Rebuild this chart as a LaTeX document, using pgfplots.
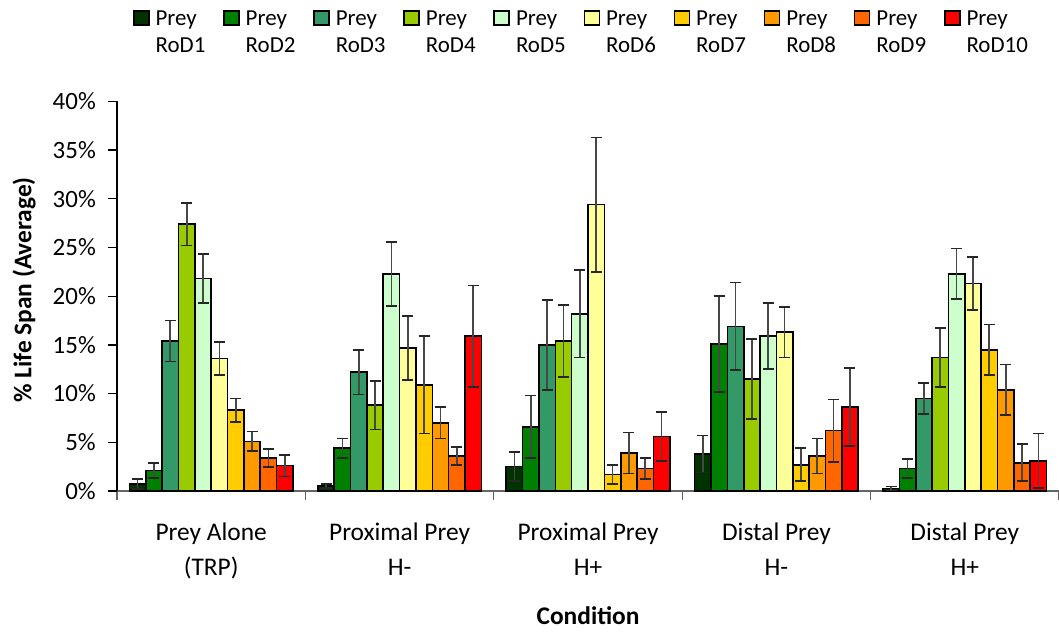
\documentclass[border=0pt]{standalone}
\usepackage{fontspec}
\setmainfont{Carlito}
\usepackage{pgfplots}
\pgfplotsset{compat=1.18}
\definecolor{c1}{HTML}{003300}
\definecolor{c2}{HTML}{008000}
\definecolor{c3}{HTML}{339966}
\definecolor{c4}{HTML}{99CC00}
\definecolor{c5}{HTML}{CCFFCC}
\definecolor{c6}{HTML}{FFFF99}
\definecolor{c7}{HTML}{FFCC00}
\definecolor{c8}{HTML}{FF9900}
\definecolor{c9}{HTML}{FF6600}
\definecolor{c10}{HTML}{FF0000}
\pgfplotsset{
  mybar/.style={fill=#1, draw=black, line width=1.6bp,
    legend image code/.code={\draw[##1] (0bp,1bp) rectangle (15bp,15bp);},
    error bars/.cd, y dir=both, y explicit,
    error bar style={line width=1.7bp, black!72},
    error mark options={rotate=90, mark size=5.5bp, line width=1.7bp, black!85}},
}
\newcommand\xl[2]{\begin{tabular}[t]{@{}c@{}}#1\\#2\end{tabular}}
\newcommand\legtxt[1]{\parbox[t]{67.5bp}{Prey\\#1}}
\begin{document}
\begin{tikzpicture}
\path[use as bounding box] (-117bp,-141bp) rectangle (942bp,491bp);
\begin{axis}[
  at={(0,0)}, anchor=south west,
  scale only axis, width=942bp, height=389.6bp,
  xmin=-0.5, xmax=4.5, ymin=0, ymax=40,
  ybar=0pt, bar width=16.35bp,
  axis x line=bottom, axis y line=left,
  axis line style={-, line width=1.3bp, black},
  x axis line style={black!60},
  xtick={0,1,2,3,4},
  xticklabels={\xl{Prey Alone}{(TRP)},\xl{Proximal Prey}{H-},\xl{Proximal Prey}{H+},\xl{Distal Prey}{H-},\xl{Distal Prey}{H+}},
  minor xtick={-0.5,0.5,1.5,2.5,3.5,4.5},
  ytick={0,5,10,15,20,25,30,35,40},
  yticklabels={0\%,5\%,10\%,15\%,20\%,25\%,30\%,35\%,40\%},
  tick align=outside, major tick length=9bp, minor tick length=9bp,
  tick style={line width=1.3bp, black},
  major x tick style={draw=none},
  minor x tick style={line width=1.3bp, black!60},
  yticklabel style={font=\fontsize{25}{30}\selectfont, anchor=east, inner sep=0pt, xshift=-12bp},
  xticklabel style={font=\fontsize{25.5}{36}\selectfont, anchor=base, yshift=-40bp},
  every axis y label/.style={at={(axis description cs:0,0.516)}, xshift=-93bp, rotate=90, anchor=center, font=\bfseries\fontsize{25.5}{30}\selectfont},
  every axis x label/.style={at={(axis description cs:0.5,0)}, yshift=-133bp, anchor=base, font=\bfseries\fontsize{25.5}{30}\selectfont},
  xlabel={Condition},
  ylabel={\% Life Span (Average)},
  legend columns=10,
  legend cell align=left,
  legend style={draw=none, fill=none, inner sep=0pt, outer sep=0pt,
    at={(axis description cs:0.017,1.2346)}, anchor=north west,
    font=\fontsize{23}{26.5}\selectfont,
    column sep=6bp,
    nodes={inner sep=0pt, anchor=base west},
    /tikz/every even column/.append style={column sep=0bp}},
]
\addplot[mybar=c1] coordinates {(0,0.7) +- (0,0.5) (1,0.5) +- (0,0.2) (2,2.5) +- (0,1.5) (3,3.8) +- (0,1.9) (4,0.25) +- (0,0.2)};
\addlegendentry{\legtxt{RoD1}}
\addplot[mybar=c2] coordinates {(0,2.1) +- (0,0.8) (1,4.4) +- (0,1.0) (2,6.6) +- (0,3.2) (3,15.1) +- (0,4.9) (4,2.3) +- (0,1.0)};
\addlegendentry{\legtxt{RoD2}}
\addplot[mybar=c3] coordinates {(0,15.4) +- (0,2.1) (1,12.2) +- (0,2.3) (2,15.0) +- (0,4.6) (3,16.9) +- (0,4.5) (4,9.5) +- (0,1.6)};
\addlegendentry{\legtxt{RoD3}}
\addplot[mybar=c4] coordinates {(0,27.4) +- (0,2.2) (1,8.8) +- (0,2.5) (2,15.4) +- (0,3.7) (3,11.5) +- (0,4.1) (4,13.7) +- (0,3.0)};
\addlegendentry{\legtxt{RoD4}}
\addplot[mybar=c5] coordinates {(0,21.8) +- (0,2.5) (1,22.3) +- (0,3.3) (2,18.2) +- (0,4.5) (3,15.9) +- (0,3.4) (4,22.3) +- (0,2.6)};
\addlegendentry{\legtxt{RoD5}}
\addplot[mybar=c6] coordinates {(0,13.6) +- (0,1.7) (1,14.7) +- (0,3.3) (2,29.4) +- (0,6.9) (3,16.3) +- (0,2.6) (4,21.3) +- (0,2.7)};
\addlegendentry{\legtxt{RoD6}}
\addplot[mybar=c7] coordinates {(0,8.3) +- (0,1.2) (1,10.9) +- (0,5.0) (2,1.7) +- (0,1.0) (3,2.7) +- (0,1.7) (4,14.5) +- (0,2.6)};
\addlegendentry{\legtxt{RoD7}}
\addplot[mybar=c8] coordinates {(0,5.1) +- (0,1.0) (1,7.0) +- (0,1.6) (2,3.9) +- (0,2.1) (3,3.6) +- (0,1.8) (4,10.4) +- (0,2.6)};
\addlegendentry{\legtxt{RoD8}}
\addplot[mybar=c9] coordinates {(0,3.4) +- (0,0.9) (1,3.6) +- (0,0.9) (2,2.3) +- (0,1.1) (3,6.2) +- (0,3.2) (4,2.9) +- (0,1.9)};
\addlegendentry{\legtxt{RoD9}}
\addplot[mybar=c10] coordinates {(0,2.6) +- (0,1.1) (1,15.9) +- (0,5.2) (2,5.6) +- (0,2.5) (3,8.6) +- (0,4.0) (4,3.1) +- (0,2.8)};
\addlegendentry{\legtxt{RoD10}}
\end{axis}
\end{tikzpicture}
\end{document}
